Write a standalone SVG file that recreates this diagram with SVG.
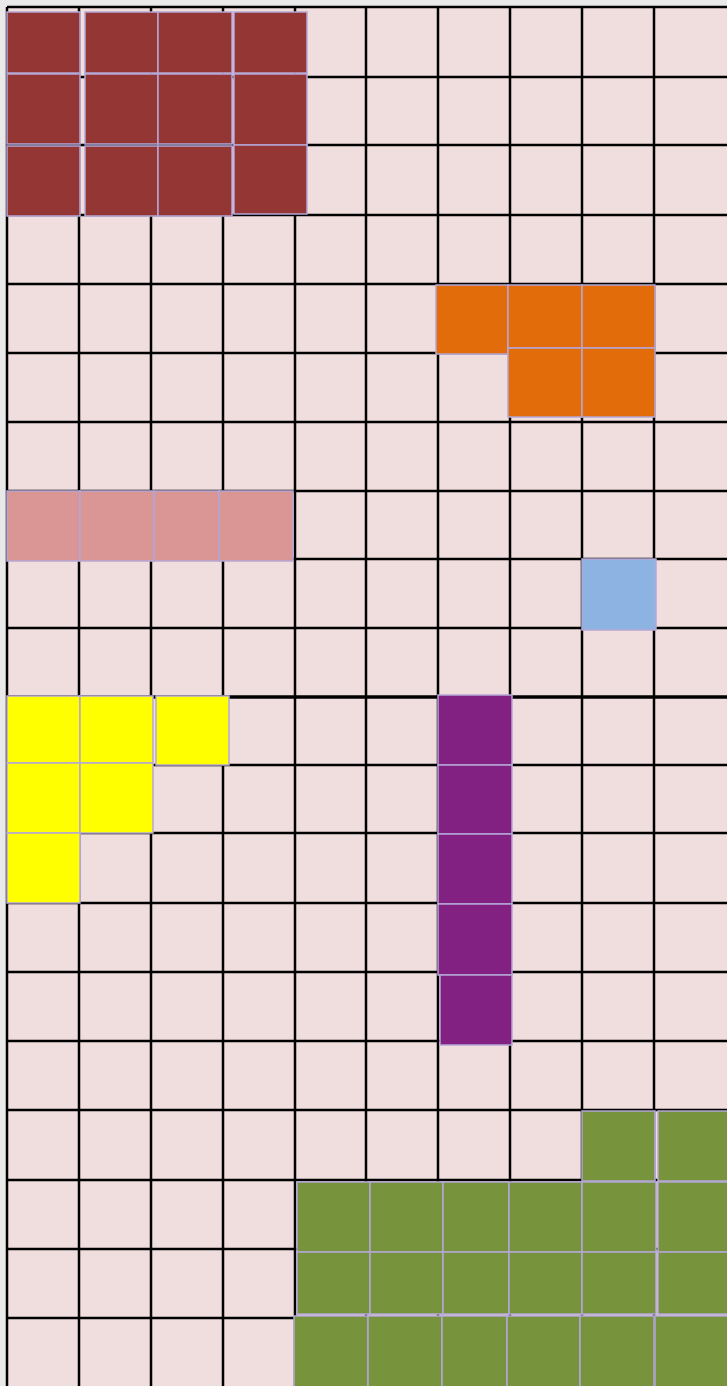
<svg xmlns="http://www.w3.org/2000/svg" width="727" height="1386" viewBox="0 0 727 1386">
<style>
.g{stroke:#000;stroke-width:2.5;fill:none}
.c rect{stroke:#b4a7d6;stroke-width:1.5}
#brown rect{fill:#943634}
#orange rect{fill:#e36c0a}
#pink rect{fill:#d99694}
#blue rect{fill:#8db3e2}
#yellow rect{fill:#ffff00}
#purple rect{fill:#822181}
#green rect{fill:#77933c}
</style>
<rect x="0" y="0" width="727" height="1386" fill="#e9e9e9"/>
<rect x="7" y="7" width="720" height="1379" fill="#f0dddd"/>
<g id="grid" class="g">
<path d="M7 7V1386M79 7V1386M151 7V1386M223 7V1386M295 7V1386M366 7V1386M438 7V1386M510 7V1386M582 7V1386M654 7V1386"/>
<path d="M7 7H727M7 77H727M7 145H727M7 215H727M7 284H727M7 353H727M7 422H727M7 491H727M7 559H727M7 628H727M7 765H727M7 833H727M7 903H727M7 972H727M7 1041H727M7 1110H727M7 1180H727M7 1249H727M7 1318H727"/>
<path d="M7 697H727" stroke-width="3.5"/>
</g>
<g id="brown" class="c">
<rect x="7" y="12" width="73" height="61"/><rect x="85" y="12" width="73" height="61"/><rect x="158" y="12" width="74" height="61"/><rect x="234" y="12" width="73" height="61"/>
<rect x="7" y="74" width="73" height="70"/><rect x="85" y="74" width="73" height="70"/><rect x="158" y="74" width="74" height="70"/><rect x="234" y="74" width="73" height="71"/>
<rect x="7" y="146" width="73" height="70"/><rect x="85" y="146" width="73" height="70"/><rect x="158" y="146" width="74" height="70"/><rect x="234" y="145" width="73" height="69"/>
</g>
<g id="orange" class="c">
<rect x="436" y="285" width="72" height="69"/><rect x="508" y="285" width="74" height="63"/><rect x="582" y="285" width="73" height="63"/>
<rect x="508" y="348" width="74" height="69"/><rect x="582" y="348" width="73" height="69"/>
</g>
<g id="pink" class="c">
<rect x="7" y="491" width="73" height="70"/><rect x="80" y="491" width="74" height="70"/><rect x="154" y="491" width="65" height="70"/><rect x="219" y="491" width="74" height="70"/>
</g>
<g id="blue" class="c">
<rect x="582" y="559" width="74" height="71"/>
</g>
<g id="yellow" class="c">
<rect x="7" y="696" width="73" height="67"/><rect x="80" y="696" width="73" height="67"/><rect x="156" y="696" width="73" height="69"/>
<rect x="7" y="763" width="73" height="70"/><rect x="80" y="763" width="73" height="70"/>
<rect x="7" y="833" width="73" height="70"/>
</g>
<g id="purple" class="c">
<rect x="438" y="695" width="74" height="70"/><rect x="438" y="765" width="74" height="69"/><rect x="438" y="834" width="74" height="70"/><rect x="438" y="904" width="74" height="71"/><rect x="440" y="975" width="72" height="70"/>
</g>
<g id="green" class="c">
<rect x="582" y="1111" width="73" height="70"/><rect x="658" y="1111" width="72" height="70"/>
<rect x="297" y="1182" width="73" height="70"/><rect x="370" y="1182" width="73" height="70"/><rect x="443" y="1182" width="66" height="70"/><rect x="509" y="1182" width="73" height="70"/><rect x="582" y="1182" width="74" height="70"/><rect x="658" y="1182" width="72" height="70"/>
<rect x="297" y="1252" width="73" height="62"/><rect x="370" y="1252" width="73" height="62"/><rect x="443" y="1252" width="66" height="62"/><rect x="509" y="1252" width="73" height="62"/><rect x="582" y="1252" width="74" height="62"/><rect x="658" y="1252" width="72" height="62"/>
<rect x="294" y="1316" width="74" height="72"/><rect x="368" y="1316" width="74" height="72"/><rect x="442" y="1316" width="65" height="72"/><rect x="507" y="1316" width="73" height="72"/><rect x="580" y="1316" width="74" height="72"/><rect x="655" y="1316" width="75" height="72"/>
</g>
</svg>
